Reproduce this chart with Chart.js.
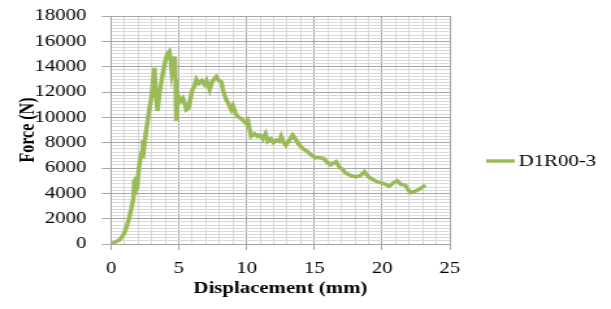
<!DOCTYPE html>
<html>
<head>
<meta charset="utf-8">
<script src="https://cdn.jsdelivr.net/npm/chart.js@4/dist/chart.umd.min.js"></script>
<style>
  html, body { margin: 0; padding: 0; background: #fff; }
</style>
</head>
<body>
<!-- the original picture is stretched sideways, so the canvas is too -->
<canvas id="chart" width="470" height="309" style="display:block;width:611px;height:309px"></canvas>
<script>
// data
const seriesName = 'D1R00-3';
const displacement = [
  0, 0.3, 0.6, 0.9, 1.1, 1.3, 1.5, 1.65, 1.72, 1.78, 1.85, 1.92, 2.0, 2.1, 2.2, 2.28, 2.35, 2.45, 2.55, 2.7,
  2.85, 3.0, 3.1, 3.2, 3.3, 3.43, 3.55, 3.7, 3.85, 4.0, 4.15, 4.3, 4.4, 4.48, 4.58, 4.7, 4.76, 4.82, 4.9, 5.0,
  5.15, 5.3, 5.44, 5.56, 5.7, 5.85, 6.0, 6.18, 6.3, 6.5, 6.7, 6.9, 7.05, 7.28, 7.45, 7.6, 7.77, 7.95, 8.14, 8.3,
  8.5, 8.65, 8.87, 9.0, 9.2, 9.36, 9.6, 9.8, 9.98, 10.1, 10.34, 10.6, 10.8, 10.96, 11.2, 11.4, 11.57, 11.8, 12.0, 12.2,
  12.4, 12.55, 12.75, 12.9, 13.1, 13.4, 13.6, 13.9, 14.2, 14.5, 14.8, 15.1, 15.4, 15.7, 15.9, 16.2, 16.6, 16.9, 17.1, 17.3,
  17.7, 18.07, 18.4, 18.7, 19.0, 19.3, 19.66, 20.0, 20.3, 20.5, 20.8, 21.1, 21.4, 21.7, 21.85, 22.1, 22.4, 22.7, 23.0, 23.2
];
const force = [
  0, 150, 300, 700, 1200, 1900, 2800, 3600, 5100, 3900, 5300, 4300, 5400, 6300, 7000, 6900, 8200, 7700, 8600, 9700,
  10800, 11700, 12800, 13900, 12000, 10500, 11800, 12700, 13700, 14400, 15000, 15200, 14600, 13600, 14200, 14800, 13000, 9700, 11200, 11600,
  11300, 11500, 11100, 10600, 10700, 11400, 12200, 12500, 13000, 12700, 12900, 12600, 12900, 12200, 12800, 13000, 13200, 12900, 12800, 12000,
  11400, 11100, 10600, 10900, 10300, 10050, 9900, 9700, 9500, 9700, 8500, 8700, 8500, 8600, 8300, 8700, 8100, 8300, 8000, 8200,
  8100, 8500, 8000, 7800, 8100, 8600, 8300, 7800, 7500, 7300, 7000, 6800, 6800, 6750, 6500, 6250, 6500, 6000, 5900, 5600,
  5400, 5300, 5400, 5700, 5300, 5100, 4900, 4800, 4700, 4550, 4800, 5000, 4700, 4650, 4400, 4050, 4150, 4300, 4500, 4650
];
const xTicks = [0, 5, 10, 15, 20, 25];
const yTicks = [0, 2000, 4000, 6000, 8000, 10000, 12000, 14000, 16000, 18000];

const lineColor = '#9bbb59';
const majorGrid = '#a6a6a6';
const minorGrid = '#d9d9d9';
const serif = 'Liberation Serif';

const points = displacement.map((d, i) => ({ x: d, y: force[i] }));

// legend drawn by hand so it sits where the original has it
const legendPlugin = {
  id: 'sideLegend',
  afterDraw(chart) {
    const c = chart.ctx;
    c.save();
    c.strokeStyle = lineColor;
    c.lineWidth = 3.5;
    c.beginPath();
    c.moveTo(374, 161);
    c.lineTo(396, 161);
    c.stroke();
    c.fillStyle = '#000';
    c.font = '16px "' + serif + '"';
    c.textBaseline = 'middle';
    c.textAlign = 'left';
    c.fillText(seriesName, 399, 162);
    c.restore();
  }
};

new Chart(document.getElementById('chart').getContext('2d'), {
  type: 'line',
  data: {
    datasets: [{
      label: seriesName,
      data: points,
      borderColor: lineColor,
      borderWidth: 3.5,
      pointRadius: 0,
      tension: 0,
      fill: false
    }]
  },
  options: {
    responsive: false,
    animation: false,
    devicePixelRatio: 1,
    layout: { padding: { left: 0, top: 16, right: 124, bottom: 0 } },
    plugins: { legend: { display: false }, tooltip: { enabled: false } },
    scales: {
      x: {
        type: 'linear',
        min: 0,
        max: 25,
        afterFit(scale) { scale.height = 65; },
        afterBuildTicks(scale) {
          const t = [];
          for (let v = 0; v <= 25; v++) t.push({ value: v });
          scale.ticks = t;
        },
        ticks: {
          autoSkip: false,
          maxRotation: 0,
          padding: 9,
          color: '#000',
          font: { family: serif, size: 16 },
          callback: v => xTicks.includes(v) ? String(v) : ''
        },
        grid: {
          color: ctx => xTicks.includes(ctx.tick.value) ? majorGrid : minorGrid,
          tickColor: ctx => xTicks.includes(ctx.tick.value) ? majorGrid : 'transparent',
          tickLength: 6
        },
        border: { color: majorGrid },
        title: {
          display: true,
          text: 'Displacement (mm)',
          color: '#000',
          font: { family: serif, size: 16, weight: 'bold' },
          padding: { top: 0, bottom: 11 }
        }
      },
      y: {
        min: 0,
        max: 18000,
        afterFit(scale) {
          scale.width = 85.4;
          scale.paddingTop = 0;
          scale.paddingBottom = 0;
        },
        afterBuildTicks(scale) {
          const t = [];
          for (let v = 0; v <= 18000; v += 250) t.push({ value: v });
          scale.ticks = t;
        },
        ticks: {
          autoSkip: false,
          padding: 12,
          color: '#000',
          font: { family: serif, size: 16 },
          callback: v => yTicks.includes(v) ? String(v) : ''
        },
        grid: {
          color: ctx => yTicks.includes(ctx.tick.value) ? majorGrid : minorGrid,
          tickColor: ctx => yTicks.includes(ctx.tick.value) ? majorGrid : 'transparent',
          tickLength: 7
        },
        border: { color: majorGrid },
        title: {
          display: true,
          text: 'Force (N)',
          color: '#000',
          font: { family: serif, size: 16, weight: 'bold' },
          padding: { top: 12, bottom: 0 }
        }
      }
    }
  },
  plugins: [legendPlugin]
});
</script>
</body>
</html>
